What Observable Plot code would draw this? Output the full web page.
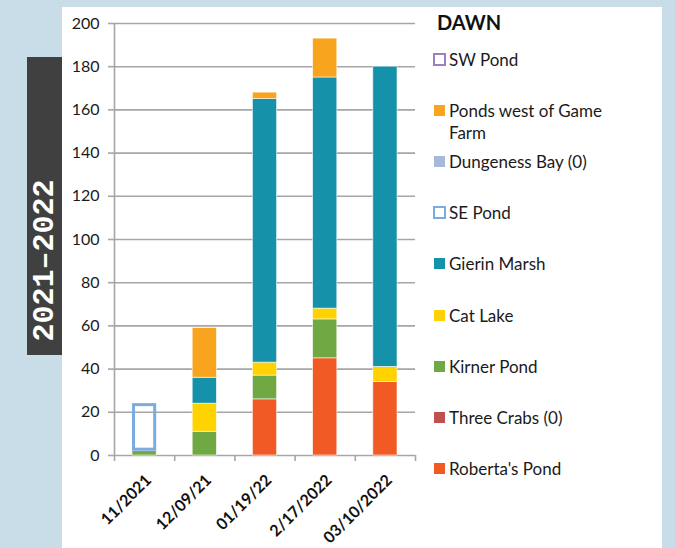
<!DOCTYPE html>
<html><head><meta charset="utf-8">
<script src="https://cdn.jsdelivr.net/npm/d3@7"></script>
<script src="https://cdn.jsdelivr.net/npm/@observablehq/plot@0.6"></script>
<style>
body{margin:0;width:675px;height:548px;background:#c8dde8;position:relative;overflow:hidden;font-family:Lato,"Open Sans",sans-serif}
#panel{position:absolute;left:62px;top:7px;width:600px;height:541px;background:#fff}
#band{position:absolute;left:27px;top:57px;width:35px;height:298px;background:#404040}
#season{position:absolute;left:-38.5px;top:242.5px;width:166px;height:35px;line-height:35px;text-align:center;
  transform:rotate(-90deg);color:#fff;font-family:"Liberation Mono","DejaVu Sans Mono",monospace;font-weight:bold;font-size:30px;white-space:nowrap}
#chart{position:absolute;left:0;top:0}
.lg{position:absolute;left:433px;width:185px;font-size:17px;line-height:22px;color:#1a1a1a;padding-left:16px;box-sizing:border-box}
.sw{position:absolute;left:1px;top:5px;width:11px;height:11px;box-sizing:border-box}
#dawn{position:absolute;left:437px;top:10px;font-size:20px;font-weight:bold;color:#111}
</style></head>
<body>
<div id="panel"></div>
<div id="band"></div>
<div id="season">2021–2022</div>
<div id="chart"></div>
<div id="dawn">DAWN</div>
<script>
// Survey dates (x categories)
const dates = ["11/2021", "12/09/21", "01/19/22", "2/17/2022", "03/10/2022"];
// Series in stacking order (bottom -> top)
const seriesNames = ["Roberta's Pond", "Three Crabs (0)", "Kirner Pond", "Cat Lake", "Gierin Marsh", "SE Pond", "Dungeness Bay (0)", "Ponds west of Game Farm", "SW Pond"];
const robertasPond   = [0, 0, 26, 45, 34];
const threeCrabs     = [0, 0, 0, 0, 0];
const kirnerPond     = [2, 11, 11, 18, 0];
const catLake        = [0, 13, 6, 5, 7];
const gierinMarsh    = [0, 12, 122, 107, 139];
const sePond         = [22, 0, 0, 0, 0];
const dungenessBay   = [0, 0, 0, 0, 0];
const pondsWest      = [0, 23, 3, 18, 0];
const swPond         = [0, 0, 0, 0, 0];
const seriesValues = [robertasPond, threeCrabs, kirnerPond, catLake, gierinMarsh, sePond, dungenessBay, pondsWest, swPond];
const seriesColors = ["#f15a24", "#c0504d", "#70a843", "#ffd200", "#1591a9", "#7cabe0", "#a6b9da", "#f8a41e", "#a07cc3"];
const outlineSeries = ["SE Pond", "SW Pond"];
const yTicks = [0, 20, 40, 60, 80, 100, 120, 140, 160, 180, 200];

// manual stacking
const rows = [];
dates.forEach((date, i) => {
  let cum = 0;
  seriesNames.forEach((s, k) => {
    const v = seriesValues[k][i];
    if (v > 0) rows.push({i, date, series: s, y1: cum, y2: cum + v, color: seriesColors[k]});
    cum += v;
  });
});
const filled = rows.filter(d => !outlineSeries.includes(d.series));
const outlined = rows.filter(d => outlineSeries.includes(d.series));

const gray = "#a6a6a6";
const plot = Plot.plot({
  width: 675, height: 548,
  marginLeft: 114, marginRight: 260, marginTop: 23, marginBottom: 93,
  style: {background: "transparent", fontFamily: "Lato, sans-serif", color: "#1a1a1a", overflow: "visible"},
  x: {domain: [0, dates.length], axis: null},
  y: {domain: [0, 200], axis: null},
  marks: [
    Plot.gridY(yTicks, {stroke: gray, strokeOpacity: 1, strokeWidth: 1.6}),
    Plot.ruleX([0], {stroke: gray, strokeWidth: 1.6}),
    Plot.axisY(yTicks, {tickSize: 6, tickPadding: 9, fontSize: 16, stroke: gray, strokeWidth: 1.6, fill: "#1a1a1a", label: null}),
    Plot.axisX(d3.range(dates.length + 1), {tickSize: 6, tickFormat: () => "", stroke: gray, strokeWidth: 1.6, label: null}),
    Plot.rect(filled, {x1: d => d.i, x2: d => d.i + 1, y1: "y1", y2: "y2", insetLeft: 18, insetRight: 18,
      fill: "color", stroke: "white", strokeWidth: 0.8, strokeOpacity: 0.7}),
    Plot.rect(outlined, {x1: d => d.i, x2: d => d.i + 1, y1: "y1", y2: "y2", insetLeft: 19.5, insetRight: 19.5, insetTop: 1.5, insetBottom: 1.5,
      fill: "none", stroke: "color", strokeWidth: 3}),
    Plot.text(dates, {x: (d, i) => i + 0.5, frameAnchor: "bottom", dy: 22, dx: 4, rotate: -45, textAnchor: "end", lineAnchor: "middle",
      fontWeight: "bold", fontSize: 16, fill: "#111"})
  ]
});
document.getElementById("chart").appendChild(plot);

// legend (top -> bottom is reverse stacking order)
const legendOrder = seriesNames.map((s, k) => k).reverse();
legendOrder.forEach((k, j) => {
  const div = document.createElement("div");
  div.className = "lg";
  div.style.top = (60 + j * 51.1 - 11) + "px";
  const sw = document.createElement("span");
  sw.className = "sw";
  if (outlineSeries.includes(seriesNames[k])) {
    sw.style.border = "2.5px solid " + seriesColors[k];
    sw.style.left = "0px"; sw.style.top = "4px"; sw.style.width = "13px"; sw.style.height = "13px";
  } else {
    sw.style.background = seriesColors[k];
  }
  div.appendChild(sw);
  div.appendChild(document.createTextNode(seriesNames[k]));
  document.body.appendChild(div);
});
</script>
</body></html>
